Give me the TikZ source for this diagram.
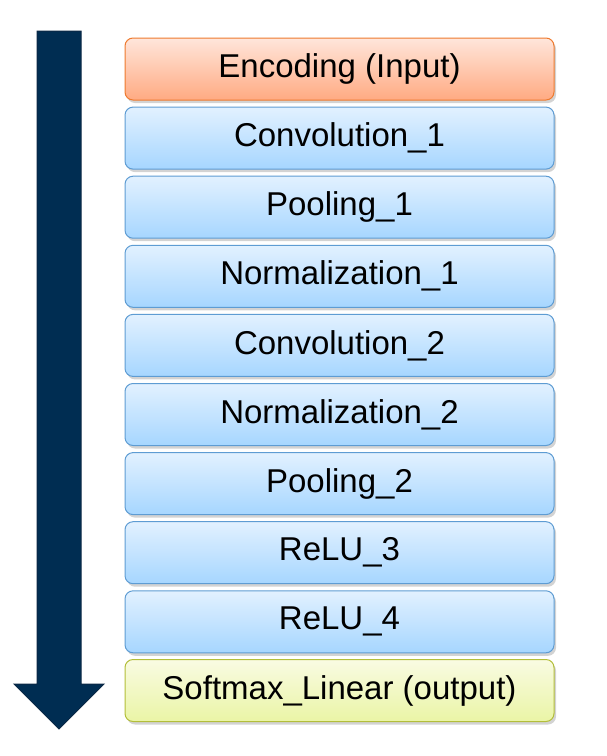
\documentclass[tikz,border=0pt]{standalone}
\usepackage{fontspec}
\setmainfont{Liberation Sans}
\usetikzlibrary{shadows}
\definecolor{navy}{HTML}{002D52}
\definecolor{navyedge}{HTML}{0B2845}
\definecolor{orT}{HTML}{FFE6DB}
\definecolor{orB}{HTML}{FFAA82}
\definecolor{orD}{HTML}{EE7A2E}
\definecolor{blT}{HTML}{E2F1FF}
\definecolor{blB}{HTML}{A6D6FF}
\definecolor{blD}{HTML}{5E9CD3}
\definecolor{yeT}{HTML}{F9FBE2}
\definecolor{yeB}{HTML}{EAF5A6}
\definecolor{yeD}{HTML}{B3BE3A}
\tikzset{
  layer/.style={rounded corners=8pt, minimum width=429pt, minimum height=62pt,
    inner sep=0pt, line width=1pt, font=\fontsize{33}{38}\selectfont,
    drop shadow={shadow xshift=2pt, shadow yshift=-3pt, opacity=0.35, fill=gray}},
  bluelayer/.style={layer, draw=blD, top color=blT, bottom color=blB},
  orangelayer/.style={layer, draw=orD, top color=orT, bottom color=orB},
  yellowlayer/.style={layer, draw=yeD, top color=yeT, bottom color=yeB},
  flowarrow/.style={fill=navy, draw=navyedge, line width=1pt}
}
\begin{document}
\begin{tikzpicture}[x=1pt,y=-1pt]
\useasboundingbox (0,0) rectangle (606,756);
\draw[flowarrow] (37,31) -- (81,31) -- (81,684) -- (104,684) -- (59,729) -- (14,684) -- (37,684) -- cycle;
\node[orangelayer] (n0) at (339.5,69) {Encoding (Input)};
\node[bluelayer] (n1) at (339.5,138.1) {Convolution\_1};
\node[bluelayer] (n2) at (339.5,207.2) {Pooling\_1};
\node[bluelayer] (n3) at (339.5,276.3) {Normalization\_1};
\node[bluelayer] (n4) at (339.5,345.4) {Convolution\_2};
\node[bluelayer] (n5) at (339.5,414.5) {Normalization\_2};
\node[bluelayer] (n6) at (339.5,483.6) {Pooling\_2};
\node[bluelayer] (n7) at (339.5,552.7) {ReLU\_3};
\node[bluelayer] (n8) at (339.5,621.8) {ReLU\_4};
\node[yellowlayer] (n9) at (339.5,690.5) {Softmax\_Linear (output)};
\end{tikzpicture}
\end{document}
